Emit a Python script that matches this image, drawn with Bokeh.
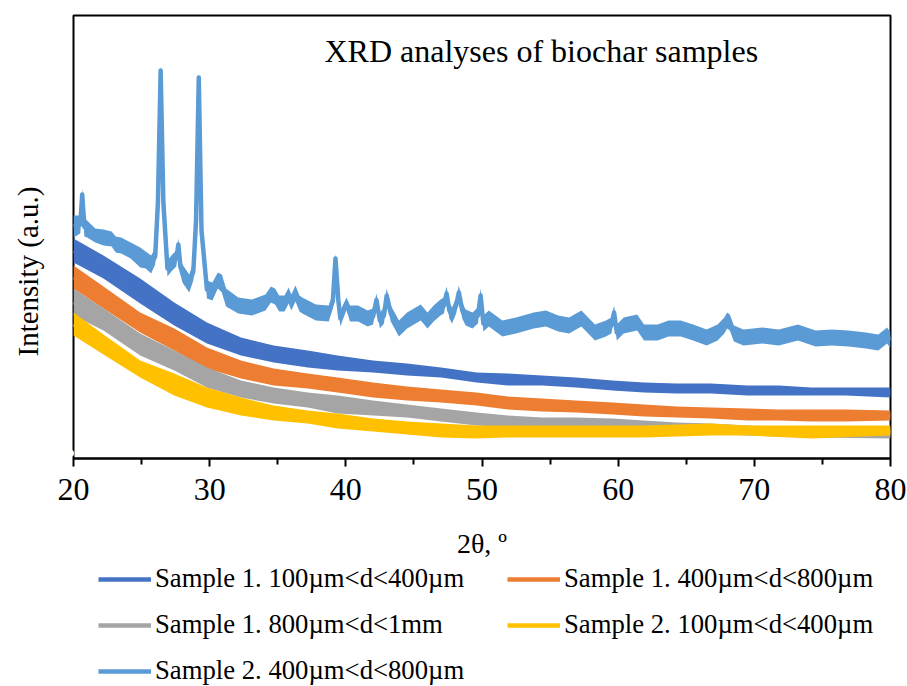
from bokeh.plotting import figure
from bokeh.layouts import column
from bokeh.models import Range1d, FixedTicker, Legend, LegendItem, Label, Title
from bokeh.embed import file_html
from bokeh.resources import INLINE

# ---------------- data ----------------
series_names = [
    "Sample 1. 100µm<d<400µm",
    "Sample 1. 400µm<d<800µm",
    "Sample 1. 800µm<d<1mm",
    "Sample 2. 100µm<d<400µm",
    "Sample 2. 400µm<d<800µm",
]
series_colors = ["#4472C4", "#ED7D31", "#A5A5A5", "#FFC000", "#5B9BD5"]

x_ticks = [20, 30, 40, 50, 60, 70, 80]
x_minor_ticks = [25, 35, 45, 55, 65, 75]

# Sample 1. 100-400 um : upper / lower edge of the noisy trace (a.u.)
s1a_theta = [20.0, 22.2, 24.9, 27.4, 29.8, 32.3, 34.7, 37.2, 39.4, 42.0, 44.5, 47.0, 49.6,
             51.9, 54.4, 56.9, 59.6, 61.9, 64.3, 66.8, 69.5, 71.8, 74.2, 76.7, 80.0]
s1a_hi = [220, 203, 180, 156, 136, 121, 113, 108, 103, 98, 95, 91, 86,
          85, 83, 81, 78, 76, 75, 75, 73, 73, 71, 71, 71]
s1a_lo = [196, 180, 155, 133, 115, 103, 96, 91, 88, 86, 83, 81, 76,
          73, 73, 71, 68, 66, 65, 65, 63, 63, 63, 63, 61]

# Sample 1. 400-800 um
s1b_theta = [20.0, 22.2, 24.9, 27.4, 29.8, 32.3, 34.7, 37.2, 39.4, 42.0, 44.5, 47.0, 49.6,
             51.9, 54.4, 56.9, 59.6, 61.9, 64.3, 66.8, 69.5, 71.8, 74.2, 76.7, 80.0]
s1b_hi = [193, 172, 146, 130, 111, 98, 90, 85, 81, 76, 72, 69, 66,
          62, 60, 58, 56, 54, 52, 51, 50, 49, 49, 49, 48]
s1b_lo = [170, 150, 126, 108, 90, 80, 73, 70, 66, 61, 58, 56, 53,
          49, 47, 46, 44, 42, 41, 40, 38, 38, 37, 37, 38]

# Sample 1. 800 um - 1 mm
s1c_theta = [20.0, 22.2, 24.9, 27.4, 29.8, 32.3, 34.7, 37.2, 39.4, 42.0, 44.5, 47.0, 49.6,
             51.9, 54.4, 56.9, 59.6, 61.9, 64.3, 66.8, 69.5, 74.2, 80.0]
s1c_hi = [170, 150, 125, 108, 91, 78, 71, 66, 63, 58, 54, 50, 46,
          43, 41, 41, 40, 38, 36, 35, 33, 31, 30]
s1c_lo = [143, 128, 103, 88, 71, 61, 55, 51, 45, 43, 41, 37, 33,
          31, 31, 30, 30, 28, 26, 25, 23, 21, 20]

# Sample 2. 100-400 um
s2a_theta = [20.0, 22.2, 24.9, 27.4, 29.8, 32.3, 34.7, 37.2, 39.4, 42.0, 44.5, 47.0, 49.6,
             51.9, 56.9, 61.9, 66.8, 69.5, 74.2, 80.0]
s2a_hi = [146, 124, 98, 85, 71, 61, 53, 48, 45, 40, 37, 35, 33,
          33, 33, 33, 35, 33, 33, 33]
s2a_lo = [123, 104, 81, 63, 51, 43, 38, 35, 30, 27, 24, 21, 20,
          21, 21, 21, 23, 23, 20, 23]

# Sample 2. 400-800 um (with crystalline peaks)
s2b_theta = [20.0, 20.5, 20.64, 20.8, 21.0, 21.6, 22.2, 22.8, 23.1, 23.5, 24.2, 24.9, 25.3,
             25.7, 26.0, 26.2, 26.4, 26.6, 26.9, 27.25, 27.55, 27.7, 27.85, 28.0, 28.5, 28.8,
             29.0, 29.2, 29.4, 29.8, 30.2, 30.6, 30.9, 31.2, 32.1, 33.1, 34.1, 34.5, 34.8,
             35.1, 35.5, 35.8, 36.0, 36.3, 36.6, 36.8, 37.8, 38.75, 39.05, 39.24, 39.45, 39.6,
             40.05, 40.3, 40.9, 41.6, 42.0, 42.25, 42.5, 42.8, 43.0, 43.3, 43.9, 44.5, 45.5,
             46.0, 46.45, 46.95, 47.2, 47.4, 47.6, 47.8, 48.1, 48.3, 48.55, 48.8, 49.3, 49.7,
             49.9, 50.1, 50.5, 51.5, 52.5, 53.8, 54.7, 55.6, 56.4, 57.3, 58.3, 59.1, 59.5,
             59.7, 59.9, 60.4, 61.4, 61.9, 62.9, 63.7, 64.6, 65.5, 66.5, 67.3, 67.8, 68.0,
             68.2, 68.5, 69.2, 70.6, 71.8, 73.2, 74.5, 75.7, 76.9, 78.2, 79.1, 79.75, 80.0]
s2b_hi = [243, 243, 270, 241, 238, 230, 229, 227, 222, 221, 216, 211, 207,
          203, 210, 262, 393, 262, 198, 204, 208, 220, 200, 194, 184, 196,
          244, 386, 234, 178, 176, 186, 184, 170, 161, 159, 164, 172, 170,
          163, 163, 171, 164, 173, 163, 161, 154, 153, 165, 205, 165, 148,
          161, 153, 153, 148, 150, 165, 146, 151, 170, 153, 138, 146, 154,
          146, 153, 159, 161, 172, 156, 151, 161, 173, 156, 149, 146, 151,
          170, 143, 148, 138, 141, 146, 148, 143, 141, 148, 134, 138, 141,
          153, 134, 141, 144, 134, 134, 138, 138, 134, 129, 134, 141, 146,
          144, 133, 129, 131, 129, 134, 128, 129, 128, 126, 124, 131, 126]
s2b_lo = [221, 225, 258, 222, 221, 216, 213, 212, 206, 205, 200, 191, 190,
          185, 194, 250, 383, 250, 182, 188, 192, 208, 184, 176, 166, 178,
          232, 376, 222, 160, 158, 170, 166, 152, 145, 143, 148, 156, 154,
          147, 147, 155, 148, 157, 147, 145, 138, 137, 151, 195, 151, 132,
          149, 137, 137, 132, 134, 152, 130, 135, 156, 137, 122, 130, 138,
          130, 137, 143, 145, 158, 140, 135, 145, 159, 140, 133, 130, 135,
          156, 127, 132, 122, 125, 130, 132, 127, 125, 132, 118, 122, 125,
          139, 118, 125, 128, 118, 118, 122, 122, 118, 113, 118, 125, 130,
          128, 117, 113, 115, 113, 118, 112, 113, 112, 110, 108, 115, 110]

series_theta = [s1a_theta, s1b_theta, s1c_theta, s2a_theta, s2b_theta]
series_hi = [s1a_hi, s1b_hi, s1c_hi, s2a_hi, s2b_hi]
series_lo = [s1a_lo, s1b_lo, s1c_lo, s2a_lo, s2b_lo]

# ---------------- main chart ----------------
SERIF = "Liberation Serif"
MAIN_H = 562
LEG_H = 686 - MAIN_H

p = figure(width=907, height=MAIN_H,
           x_range=Range1d(20, 80), y_range=Range1d(0, 443),
           output_backend="svg", toolbar_location=None,
           min_border_left=73, min_border_right=17,
           min_border_top=15, min_border_bottom=MAIN_H - 458)

p.xgrid.visible = False
p.ygrid.visible = False
p.yaxis.visible = False
p.outline_line_color = "black"
p.outline_line_width = 2
p.background_fill_color = "white"
p.border_fill_color = "white"

xa = p.xaxis[0]
xa.ticker = FixedTicker(ticks=x_ticks, minor_ticks=x_minor_ticks)
xa.axis_line_color = "black"
xa.axis_line_width = 2
xa.major_tick_line_color = "black"
xa.major_tick_line_width = 2
xa.major_tick_in = 0
xa.major_tick_out = 8
xa.minor_tick_line_color = "black"
xa.minor_tick_line_width = 2
xa.minor_tick_in = 0
xa.minor_tick_out = 6
xa.major_label_text_font = SERIF
xa.major_label_text_font_size = "32px"
xa.major_label_text_color = "black"
xa.major_label_standoff = 12
xa.axis_label = "2θ, º"
xa.axis_label_text_font = SERIF
xa.axis_label_text_font_size = "28px"
xa.axis_label_text_font_style = "normal"
xa.axis_label_text_color = "black"
xa.axis_label_standoff = 25

# white spacer next to the frame so that the y title sits near the left edge
spacer = Title(text=".", text_color="white", text_font=SERIF, text_font_size="42px", standoff=0)
p.add_layout(spacer, "left")
ytitle = Title(text="Intensity (a.u.)", align="left", offset=102,
               text_font=SERIF, text_font_size="29px", text_font_style="normal",
               text_color="black", vertical_align="bottom", standoff=0)
p.add_layout(ytitle, "left")

for name, col, th, hi, lo in zip(series_names, series_colors, series_theta, series_hi, series_lo):
    mid = [(h + l) / 2 for h, l in zip(hi, lo)]
    p.varea(x=th, y1=lo, y2=hi, fill_color=col, fill_alpha=1.0)
    p.line(th, mid, line_color=col, line_width=4.5, line_join="round")

title = Label(x=38.43, y=408, text="XRD analyses of biochar samples",
              text_font=SERIF, text_font_size="32px", text_color="black",
              text_baseline="middle", text_align="left")
p.add_layout(title)

# ---------------- legend strip (same series, out of view; only the legend shows) ----------------
q = figure(width=907, height=LEG_H, x_range=Range1d(-10, -9), y_range=Range1d(0, 1),
           output_backend="svg", toolbar_location=None,
           x_axis_type=None, y_axis_type=None,
           min_border_left=0, min_border_right=0, min_border_top=0, min_border_bottom=0)
q.xgrid.visible = False
q.ygrid.visible = False
q.outline_line_color = None
q.background_fill_color = "white"
q.border_fill_color = "white"

items = []
for name, col, th, hi, lo in zip(series_names, series_colors, series_theta, series_hi, series_lo):
    mid = [(h + l) / 2 for h, l in zip(hi, lo)]
    r = q.line(th, mid, line_color=col, line_width=4.5)
    items.append(LegendItem(label=name, renderers=[r]))

legend = Legend(items=items, location=(25, 0), orientation="horizontal", ncols=2,
                glyph_width=53, glyph_height=26, label_height=26, label_width=337,
                label_standoff=4, spacing=15, padding=0, margin=0,
                border_line_color=None, background_fill_alpha=0,
                label_text_font=SERIF, label_text_font_size="26.7px",
                label_text_color="black")
q.add_layout(legend, "center")

layout = column(p, q, spacing=0)
open("out.html", "w").write(file_html(layout, INLINE))
